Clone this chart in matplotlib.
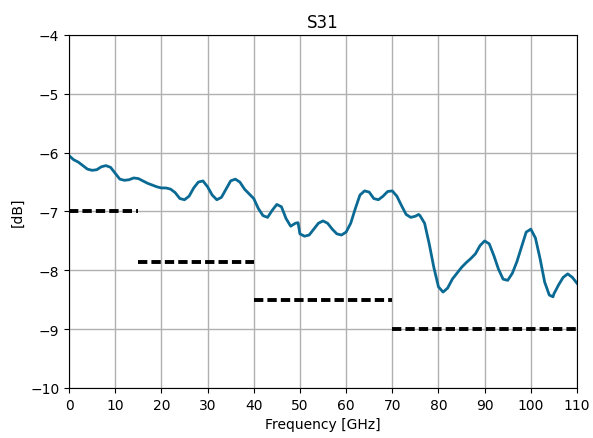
import matplotlib
matplotlib.use("Agg")
import matplotlib.pyplot as plt

freq = [0, 1, 2, 3, 4, 5, 6, 7, 8, 9, 10, 11, 12, 13, 14, 15, 16, 17, 18, 19,
        20, 21, 22, 23, 24, 25, 26, 27, 28, 29, 30, 31, 32, 33, 34, 35, 36, 37, 38, 39,
        40, 41, 42, 43, 44, 45, 46, 47, 48, 49, 49.6, 50, 51, 52, 53, 54, 55, 56, 57, 58, 59,
        60, 61, 62, 63, 64, 65, 66, 67, 68, 69, 70, 71, 72, 73, 74, 75, 75.7, 76, 77, 78, 79,
        80, 81, 82, 83, 84, 85, 86, 87, 88, 89, 90, 91, 92, 93, 94, 95, 96, 97, 98, 99,
        100, 101, 102, 103, 104, 104.8, 105, 106, 107, 108, 109, 110]
s31 = [-6.05, -6.12, -6.16, -6.22, -6.28, -6.30, -6.29, -6.24, -6.22, -6.25,
       -6.35, -6.45, -6.47, -6.46, -6.43, -6.44, -6.48, -6.52, -6.55, -6.58,
       -6.60, -6.60, -6.62, -6.68, -6.78, -6.80, -6.74, -6.60, -6.50, -6.48,
       -6.58, -6.72, -6.80, -6.76, -6.62, -6.48, -6.45, -6.50, -6.62, -6.70,
       -6.78, -6.95, -7.07, -7.10, -6.98, -6.88, -6.92, -7.12, -7.25, -7.20, -7.19,
       -7.38, -7.42, -7.40, -7.30, -7.20, -7.16, -7.20, -7.30, -7.38, -7.40,
       -7.35, -7.20, -6.95, -6.72, -6.65, -6.67, -6.78, -6.80, -6.74, -6.66,
       -6.65, -6.74, -6.90, -7.05, -7.10, -7.08, -7.05, -7.07, -7.20, -7.55, -7.95,
       -8.28, -8.37, -8.30, -8.15, -8.05, -7.95, -7.87, -7.80, -7.72, -7.58,
       -7.50, -7.55, -7.75, -7.98, -8.15, -8.17, -8.05, -7.85, -7.60, -7.35,
       -7.30, -7.45, -7.80, -8.20, -8.42, -8.45, -8.40, -8.25, -8.12, -8.06, -8.12, -8.22]

mask_start = [0, 15, 40, 70]
mask_end = [15, 40, 70, 110]
mask_level = [-7.0, -7.85, -8.5, -9.0]

fig = plt.figure(figsize=(5.93, 4.39), dpi=100)
ax = fig.add_axes([0.1164, 0.1139, 0.8566, 0.8041])
ax.plot(freq, s31, color="#0a6a94", lw=2)
for x0, x1, lv in zip(mask_start, mask_end, mask_level):
    ax.plot([x0, x1], [lv, lv], color="black", lw=2.8, ls=(0, (2.4, 1.05)))
ax.set_xlim(0, 110)
ax.set_ylim(-10, -4)
ax.set_xticks(range(0, 111, 10))
ax.set_yticks(range(-10, -3))
ax.grid(True, color="#b0b0b0", lw=1)
ax.set_axisbelow(True)
ax.set_title("S31", fontsize=12)
ax.set_xlabel("Frequency [GHz]")
ax.set_ylabel("[dB]")
fig.savefig("out.png", dpi=100)
